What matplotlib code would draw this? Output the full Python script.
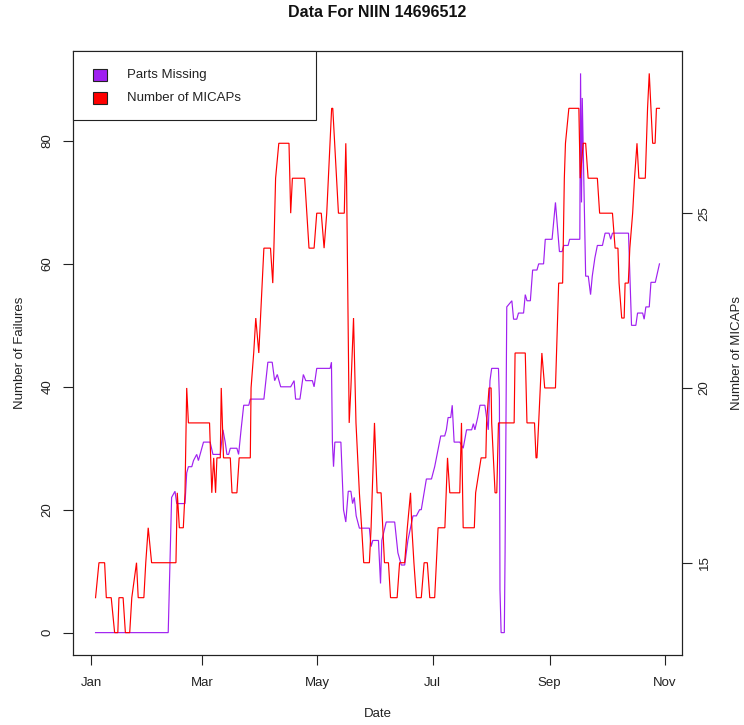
import numpy as np
import matplotlib
matplotlib.use("Agg")
import matplotlib.pyplot as plt
import matplotlib.dates as mdates
from matplotlib.patches import Rectangle

plt.rcParams['font.family'] = ['Liberation Sans', 'DejaVu Sans']

# ---- data (days since 2015-01-01) ----
start_date = np.datetime64('2015-01-01T00:00')

micap_days = [2.4, 4.2, 7.2, 8.1, 10.7, 12.5, 14.2, 14.8, 17.0, 18.2, 20.5, 21.6, 24.1, 25.0,
              28.0, 29.0, 30.3, 32.1, 45.0, 45.7, 46.8, 48.9, 49.8, 50.7, 51.6, 62.8, 64.0,
              65.0, 66.0, 66.7, 68.5, 69.0, 70.2, 73.8, 74.7, 77.3, 78.5, 84.4, 84.8, 86.2,
              87.3, 88.9, 90.7, 91.6, 95.1, 96.3, 96.9, 97.8, 99.5, 104.9, 105.8, 106.7,
              113.2, 115.5, 118.2, 119.6, 122.0, 123.5, 124.9, 127.5, 128.1, 131.1, 134.2,
              135.0, 135.4, 136.8, 137.7, 139.1, 140.4, 142.2, 143.4, 144.5, 147.5, 148.4,
              150.2, 151.6, 153.7, 154.6, 155.5, 157.6, 158.7, 162.2, 163.5, 166.2, 167.6,
              169.3, 170.0, 171.1, 172.4, 175.0, 176.5, 178.2, 179.5, 182.1, 183.9, 187.5,
              188.9, 190.1, 195.4, 196.3, 197.2, 203.1, 203.8, 206.7, 209.2, 209.6, 210.9,
              212.0, 212.3, 214.1, 215.0, 215.9, 224.2, 224.7, 230.1, 231.0, 235.0, 235.8,
              236.3, 237.2, 238.9, 240.4, 246.1, 247.8, 249.9, 250.8, 251.4, 253.2, 258.5,
              259.2, 260.8, 262.1, 263.4, 268.3, 269.5, 276.3, 277.7, 279.2, 279.8, 281.2,
              282.5, 283.0, 284.7, 285.5, 287.0, 288.0, 289.3, 290.3, 293.7, 294.9, 295.8,
              296.7, 297.6, 298.9, 299.6, 301.2]
micap_vals = [14, 15, 15, 14, 14, 13, 13, 14, 14, 13, 13, 14, 15, 14,
              14, 15, 16, 15, 15, 17, 16, 16, 17, 20, 19, 19, 17,
              18, 17, 18, 18, 20, 18, 18, 17, 17, 18, 18, 20, 21,
              22, 21, 23, 24, 24, 23, 24, 26, 27, 27, 25, 26,
              26, 24, 24, 25, 25, 24, 25, 28, 28, 25, 25,
              27, 26, 19, 20, 22, 19, 17, 16, 15, 15, 16,
              19, 17, 17, 16, 15, 15, 14, 14, 15, 15, 16,
              17, 16, 15, 14, 14, 15, 15, 14, 14, 16, 16,
              18, 17, 17, 19, 16, 16, 17, 18, 18, 19, 20,
              20, 19, 17, 17, 19, 19, 21, 21, 19, 19, 18,
              18, 19, 21, 20, 20, 23, 23, 26, 27, 28, 28,
              26, 27, 27, 26, 26, 25, 25, 24, 24, 23, 22,
              22, 23, 23, 24, 25, 26, 27, 26, 26, 28, 29,
              28, 27, 27, 28, 28]

parts_days = [2.4, 40.9, 42.7, 44.5, 45.4, 49.8, 50.7, 51.6, 53.4, 54.3, 56.0, 56.9, 57.8,
              59.6, 63.1, 64.6, 68.5, 69.9, 71.1, 72.0, 72.9, 73.8, 77.3, 78.2, 79.5, 80.9,
              83.6, 84.4, 91.6, 93.7, 96.0, 97.3, 98.7, 100.5, 105.8, 107.6, 108.4, 110.7,
              112.5, 113.8, 117.3, 118.2, 119.6, 126.7, 127.4, 127.9, 128.5, 129.2, 132.4,
              133.8, 135.0, 136.3, 137.7, 138.6, 139.5, 140.5, 142.2, 147.5, 148.4, 149.3,
              152.3, 153.4, 154.1, 156.4, 160.9, 162.6, 164.4, 166.2, 167.9, 170.6, 172.4,
              174.1, 175.0, 177.7, 180.4, 182.1, 185.3, 187.4, 188.3, 189.2, 190.6, 191.4,
              191.9, 192.4, 195.4, 197.2, 199.0, 201.7, 202.6, 203.4, 204.9, 206.1, 208.7,
              209.6, 210.5, 211.4, 212.3, 215.9, 216.4, 216.7, 217.3, 219.0, 219.4, 220.3,
              223.0, 223.9, 225.6, 226.5, 229.2, 230.1, 231.0, 232.8, 234.0, 236.3, 237.2,
              239.8, 240.7, 244.3, 246.1, 248.2, 249.6, 250.5, 252.8, 253.6, 259.0, 259.4,
              259.9, 260.3, 262.1, 263.5, 264.7, 265.6, 267.0, 268.3, 271.0, 272.4, 274.5,
              275.4, 276.3, 284.8, 286.4, 288.7, 289.6, 292.3, 293.1, 294.0, 295.8, 296.7,
              299.0, 301.2]
parts_vals = [0, 0, 22, 23, 21, 21, 26, 27, 27, 28, 29, 28, 29,
              31, 31, 29, 29, 33, 31, 29, 29, 30, 30, 29, 33, 37,
              37, 38, 38, 44, 44, 41, 42, 40, 40, 41, 38, 38,
              42, 41, 41, 40, 43, 43, 44, 31, 27, 31, 31,
              20, 18, 23, 23, 21, 22, 19, 17, 17, 14, 15,
              15, 8, 15, 18, 18, 13, 11, 11, 15, 19, 19,
              20, 20, 25, 25, 27, 32, 32, 33, 35, 35, 37,
              34, 31, 31, 30, 33, 33, 34, 33, 35, 37, 37,
              35, 33, 41, 43, 43, 38, 7, 0, 0, 13, 53,
              54, 51, 51, 52, 52, 55, 54, 54, 59, 59, 60,
              60, 64, 64, 70, 62, 62, 63, 63, 64, 64, 91,
              70, 87, 58, 58, 55, 58, 61, 63, 63, 65, 65,
              64, 65, 65, 50, 50, 52, 52, 51, 53, 53, 57,
              57, 60]

left_ticks = [0, 20, 40, 60, 80]
right_ticks = [15, 20, 25]
month_ticks = [1, 3, 5, 7, 9, 11]

title = "Data For NIIN 14696512"
xlabel = "Date"
ylabel_left = "Number of Failures"
ylabel_right = "Number of MICAPs"
legend_labels = ["Parts Missing", "Number of MICAPs"]
col_parts = "#A020F0"
col_micap = "#FF0000"


def to_dates(days):
    return start_date + (np.asarray(days) * 24 * 60).round().astype('timedelta64[m]')


def padded(lo, hi, frac=0.04):
    r = hi - lo
    return lo - frac * r, hi + frac * r


W, H = 744, 725
fig = plt.figure(figsize=(W / 100, H / 100), dpi=100)
L, R, T, B = 73, 682, 51, 655
ax = fig.add_axes([L / W, 1 - B / H, (R - L) / W, (B - T) / H])
ax2 = ax.twinx()

FS = 9.5
pd_ = to_dates(parts_days)
md_ = to_dates(micap_days)
ax.plot(pd_, parts_vals, color=col_parts, lw=0.85, solid_joinstyle='miter')
ax2.plot(md_, micap_vals, color=col_micap, lw=0.85, solid_joinstyle='miter')

all_days = parts_days + micap_days
x0, x1 = padded(min(all_days), max(all_days))
ax.set_xlim(to_dates([x0])[0], to_dates([x1])[0])
ax.set_ylim(*padded(min(parts_vals), max(parts_vals)))
ax2.set_ylim(*padded(min(micap_vals), max(micap_vals)))

ax.xaxis.set_major_locator(mdates.MonthLocator(bymonth=month_ticks))
ax.xaxis.set_major_formatter(mdates.DateFormatter('%b'))
ax.set_yticks(left_ticks)
ax2.set_yticks(right_ticks)

for a in (ax, ax2):
    for s in a.spines.values():
        s.set_linewidth(0.8)
        s.set_color('#222222')
ax.tick_params(axis='x', length=7, width=0.8, pad=9, labelsize=FS, colors='#222222')
ax.tick_params(axis='y', length=7, width=0.8, pad=7, labelsize=FS, colors='#222222')
ax2.tick_params(axis='y', length=7, width=0.8, pad=5, labelsize=FS, colors='#222222')
for lab in ax.get_yticklabels():
    lab.set_rotation(90)
    lab.set_va('center')
for lab in ax2.get_yticklabels():
    lab.set_rotation(90)
    lab.set_va('center')

# overlay in pixel coordinates for titles and legend
ov = fig.add_axes([0, 0, 1, 1], zorder=10)
ov.set_xlim(0, W)
ov.set_ylim(H, 0)
ov.axis('off')
ov.patch.set_alpha(0)

ov.text((L + R) / 2, 12, title, ha='center', va='center', fontsize=11.5,
        fontweight='bold', color='#111111')
ov.text((L + R) / 2, 714, xlabel, ha='center', va='center', fontsize=FS, color='#222222')
ov.text(20, (T + B) / 2, ylabel_left, ha='center', va='center', rotation=90,
        fontsize=FS, color='#222222')
ov.text(737, (T + B) / 2, ylabel_right, ha='center', va='center', rotation=90,
        fontsize=FS, color='#222222')

# legend box
ov.add_patch(Rectangle((L, T), 316 - L, 120 - T, facecolor='white', edgecolor='#222222', lw=0.8))
for i, (lab, col) in enumerate(zip(legend_labels, [col_parts, col_micap])):
    yc = 74.5 + i * 23
    ov.add_patch(Rectangle((93, yc - 6), 14, 12, facecolor=col, edgecolor='#222222', lw=0.8))
    ov.text(127, yc, lab, ha='left', va='center', fontsize=FS, color='#222222')

fig.savefig("out.png", dpi=100)
